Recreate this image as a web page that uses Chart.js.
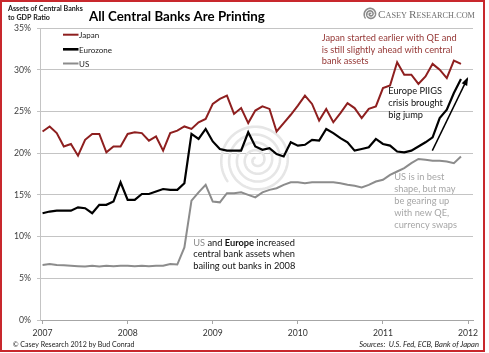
<!DOCTYPE html>
<html><head><meta charset="utf-8">
<script src="https://cdn.jsdelivr.net/npm/chart.js@4.4.0/dist/chart.umd.min.js"></script>
<style>html,body{margin:0;padding:0;background:#fff;}canvas{display:block;}</style>
</head><body>
<canvas id="c" width="489" height="353"></canvas>
<script>
// ---- data (monthly, Jan 2007 .. Dec 2011), % of GDP ----
const startYear = 2007;
const monthCount = 60;
const japan = [22.6,23.2,22.4,20.8,21.1,19.7,21.6,22.3,22.3,20.1,20.8,20.8,
               22.3,22.5,22.4,21.5,22.0,20.3,22.4,22.7,23.2,22.9,23.7,24.1,
               25.9,26.5,26.9,24.7,25.4,23.6,25.1,25.6,25.3,22.6,23.6,24.6,
               25.7,26.9,25.9,23.9,25.3,23.7,24.8,26.0,25.4,24.2,25.3,25.6,
               27.8,28.1,30.9,29.4,29.4,28.3,29.2,30.7,30.0,29.0,31.1,30.7];
const eurozone = [12.8,13.0,13.1,13.1,13.1,13.5,13.4,12.8,13.8,13.8,14.2,16.5,
                  14.4,14.4,15.1,15.1,15.4,15.7,15.6,15.6,16.4,22.3,21.7,22.9,
                  21.4,20.5,20.3,20.3,20.3,22.5,20.8,20.4,20.6,19.9,19.6,21.3,
                  20.9,21.0,21.6,21.5,22.9,22.4,21.8,21.3,20.3,20.5,20.7,21.7,
                  21.1,20.9,20.2,20.1,20.3,20.8,21.3,21.9,24.2,25.2,27.2,28.9];
const us = [6.6,6.7,6.6,6.55,6.5,6.45,6.4,6.5,6.4,6.5,6.45,6.5,
            6.5,6.45,6.5,6.45,6.5,6.5,6.7,6.65,8.7,14.3,15.3,16.2,
            14.2,14.1,15.2,15.2,15.3,15.0,14.7,15.3,15.6,15.8,16.2,16.5,
            16.5,16.4,16.5,16.5,16.5,16.5,16.4,16.2,16.1,15.9,16.2,16.6,
            16.8,17.4,17.8,18.2,18.8,19.3,19.2,19.1,19.1,19.0,18.8,19.6];
const seriesNames = ['Japan','Eurozone','US'];
const yearTicks = [2007,2008,2009,2010,2011,2012];
const yTickValues = [0,5,10,15,20,25,30,35];

// ---- texts ----
const titleText = 'All Central Banks Are Printing';
const subtitleLines = ['Assets of Central Banks','to GDP Ratio'];
const footerLeft = '\u00A9 Casey Research 2012 by Bud Conrad';
const footerRight = 'Sources:  U.S. Fed, ECB, Bank of Japan';
const noteJapan = ['Japan started earlier with QE and','is still slightly ahead with central','bank assets'];
const noteEurope = ['Europe PIIGS','crisis brought','big jump'];
const noteUS = ['US is in best','shape, but may','be gearing up','with new QE,','currency swaps'];
const note2008 = [[['US','#8c8c8c','normal'],[' and ','#111','normal'],['Europe','#111','bold'],[' increased','#111','normal']],
                  [['central bank assets when','#111','normal']],
                  [['bailing out banks in 2008','#111','normal']]];

// month positions as decimal years
const months = [];
for (let i = 0; i < monthCount; i++) months.push(startYear + i / 12);

const FONT = 'Lato, "Open Sans", sans-serif';
const SERIF = '"Liberation Serif", "DejaVu Serif", serif';
const mctx = document.createElement('canvas').getContext('2d');
function fitSize(text, weight, target, family, style) {
  mctx.font = `${style||''} ${weight} 20px ${family||FONT}`;
  return 20 * target / mctx.measureText(text).width;
}
const S = {
  xTick: fitSize('2007','normal',20),
  yTick: fitSize('35%','normal',17),
  title: fitSize(titleText,'bold',176),
  sub: fitSize(subtitleLines[0],'bold',75),
  legend: fitSize('Eurozone','normal',33),
  note: fitSize(noteJapan[0],'normal',135),
  footL: fitSize(footerLeft,'normal',122),
  footR: fitSize(footerRight,'normal',120,FONT,'italic')
};

const colors = { japan:'#8E1F1F', euro:'#000000', us:'#8C8C8C' };

function drawSpiral(ctx, cx, cy, rMax, turns, color, lw) {
  ctx.save();
  ctx.strokeStyle = color; ctx.lineWidth = lw; ctx.lineCap = 'round';
  ctx.beginPath();
  const steps = 400;
  for (let i = 0; i <= steps; i++) {
    const t = 0.08 + 0.92 * i / steps;
    const th = turns * 2 * Math.PI * t;
    const r = rMax * t;
    const x = cx + r * Math.cos(-th), y = cy + r * Math.sin(-th);
    if (i === 0) ctx.moveTo(x, y); else ctx.lineTo(x, y);
  }
  ctx.stroke();
  ctx.restore();
}

const decor = {
  id: 'decor',
  beforeDraw(chart) {
    const ctx = chart.ctx;
    ctx.save(); ctx.fillStyle = '#fff'; ctx.fillRect(0, 0, chart.width, chart.height); ctx.restore();
  },
  beforeDatasetsDraw(chart) {
    const a = chart.chartArea;
    const cx = a.left + (a.right - a.left) * 0.5;
    const cy = a.top + (a.bottom - a.top) * 0.452;
    drawSpiral(chart.ctx, cx, cy, 36, 4.6, '#e6e6e6', 2.6);
  },
  afterDraw(chart) {
    const ctx = chart.ctx;
    const xs = chart.scales.x, ys = chart.scales.y;
    ctx.save();
    ctx.textAlign = 'left'; ctx.textBaseline = 'alphabetic';
    // subtitle
    ctx.fillStyle = '#1a1a1a';
    ctx.font = `bold ${S.sub}px ${FONT}`;
    ctx.fillText(subtitleLines[0], 8, 10.5);
    ctx.fillText(subtitleLines[1], 8, 20);
    // title
    ctx.fillStyle = '#000';
    ctx.font = `bold ${S.title}px ${FONT}`;
    ctx.fillText(titleText, 89, 20.5);
    // logo
    drawSpiral(ctx, 370.5, 14, 6.5, 2.6, '#8a8a8a', 1.6);
    const parts = [['C',1],['ASEY ',0],['R',1],['ESEARCH.COM',0]];
    let big = 10, small = 7.4, w = 0;
    parts.forEach(p => { mctx.font = `${p[1]?big:small}px ${SERIF}`; w += mctx.measureText(p[0]).width; });
    const k = 97 / w; big *= k; small *= k;
    let lx = 378;
    ctx.fillStyle = '#6e6e6e';
    parts.forEach(p => { ctx.font = `${p[1]?big:small}px ${SERIF}`; ctx.fillText(p[0], lx, 17.7); lx += ctx.measureText(p[0]).width; });
    // legend
    const lg = [[seriesNames[0], colors.japan, 2, 34.7], [seriesNames[1], colors.euro, 2.6, 49.3], [seriesNames[2], colors.us, 2, 63.5]];
    ctx.font = `${S.legend}px ${FONT}`;
    lg.forEach(it => {
      ctx.strokeStyle = it[1]; ctx.lineWidth = it[2];
      ctx.beginPath(); ctx.moveTo(63, it[3]); ctx.lineTo(78.5, it[3]); ctx.stroke();
      ctx.fillStyle = '#222'; ctx.fillText(it[0], 79, it[3] + 3.6);
    });
    // annotations
    ctx.font = `${S.note}px ${FONT}`;
    ctx.fillStyle = '#953735';
    noteJapan.forEach((t, i) => ctx.fillText(t, 321.7, 40.7 + i * 11.8));
    ctx.fillStyle = '#111';
    noteEurope.forEach((t, i) => ctx.fillText(t, 388.3, 94.3 + i * 12));
    ctx.fillStyle = '#a6a6a6';
    noteUS.forEach((t, i) => ctx.fillText(t, 394.3, 180.3 + i * 12));
    note2008.forEach((line, i) => {
      let x = 193.3;
      line.forEach(seg => {
        ctx.font = `${seg[2]} ${S.note}px ${FONT}`;
        ctx.fillStyle = seg[1];
        ctx.fillText(seg[0], x, 245.7 + i * 11.6);
        x += ctx.measureText(seg[0]).width;
      });
    });
    // arrow for PIIGS jump
    const x0 = xs.getPixelForValue(2011.58), y0 = ys.getPixelForValue(20.3);
    const x1 = xs.getPixelForValue(2011.99), y1 = ys.getPixelForValue(28.9);
    ctx.strokeStyle = '#000'; ctx.lineWidth = 1.5;
    ctx.beginPath(); ctx.moveTo(x0, y0); ctx.lineTo(x1, y1); ctx.stroke();
    const ang = Math.atan2(y1 - y0, x1 - x0);
    ctx.fillStyle = '#000';
    ctx.beginPath();
    ctx.moveTo(x1 + 2 * Math.cos(ang), y1 + 2 * Math.sin(ang));
    ctx.lineTo(x1 - 7 * Math.cos(ang - 0.45), y1 - 7 * Math.sin(ang - 0.45));
    ctx.lineTo(x1 - 7 * Math.cos(ang + 0.45), y1 - 7 * Math.sin(ang + 0.45));
    ctx.closePath(); ctx.fill();
    // footer
    ctx.fillStyle = '#222';
    ctx.font = `${S.footL}px ${FONT}`;
    ctx.fillText(footerLeft, 12.7, 347);
    ctx.font = `italic ${S.footR}px ${FONT}`;
    ctx.textAlign = 'right';
    ctx.fillText(footerRight, 479, 347);
    // frame
    ctx.fillStyle = '#C8282D';
    ctx.fillRect(0, 0, 2, 352);
    ctx.fillRect(0, 0, 485, 2);
    ctx.fillRect(483, 0, 2, 352);
    ctx.fillRect(0, 350, 485, 2);
    ctx.restore();
  }
};

const mk = arr => arr.map((v, i) => ({ x: months[i], y: v }));

new Chart(document.getElementById('c'), {
  type: 'line',
  data: {
    datasets: [
      { label: seriesNames[0], data: mk(japan), borderColor: colors.japan, borderWidth: 2, pointRadius: 0, tension: 0 },
      { label: seriesNames[1], data: mk(eurozone), borderColor: colors.euro, borderWidth: 2.2, pointRadius: 0, tension: 0 },
      { label: seriesNames[2], data: mk(us), borderColor: colors.us, borderWidth: 2, pointRadius: 0, tension: 0 }
    ]
  },
  options: {
    responsive: false, animation: false, devicePixelRatio: 1,
    layout: { padding: { left: 0, right: 16, top: 28, bottom: 0 } },
    plugins: { legend: { display: false }, tooltip: { enabled: false }, title: { display: false } },
    scales: {
      x: {
        type: 'linear', min: 2006.97, max: 2012.058,
        afterBuildTicks: s => { s.ticks = yearTicks.map(v => ({ value: v })); },
        afterFit: s => { s.height = 33; },
        ticks: { autoSkip: false, maxRotation: 0, padding: 4, color: '#333', font: { family: FONT, size: S.xTick }, callback: v => String(v) },
        grid: { drawOnChartArea: false, drawTicks: true, tickLength: 4, color: '#a6a6a6' },
        border: { color: '#a6a6a6' }
      },
      y: {
        min: 0, max: 35,
        afterBuildTicks: s => { s.ticks = yTickValues.map(v => ({ value: v })); },
        afterFit: s => { s.width = 40; },
        ticks: { padding: 6, color: '#404040', font: { family: FONT, size: S.yTick }, callback: v => v + '%' },
        grid: { color: '#c4c4c4', tickLength: 3 },
        border: { color: '#c4c4c4' }
      }
    }
  },
  plugins: [decor]
});
</script>
</body></html>
